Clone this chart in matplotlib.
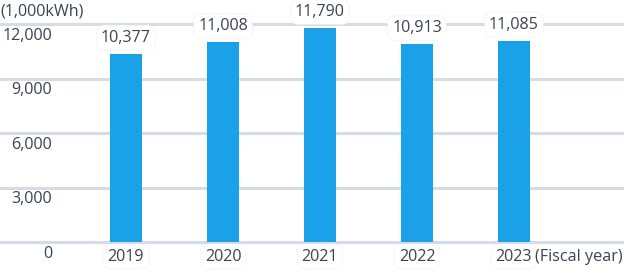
import matplotlib
matplotlib.use("Agg")
import matplotlib.pyplot as plt
import matplotlib.transforms as mtransforms

years = ["2019", "2020", "2021", "2022", "2023"]
values = [10377, 11008, 11790, 10913, 11085]
yticks = [0, 3000, 6000, 9000, 12000]
ytick_labels = ["0", "3,000", "6,000", "9,000", "12,000"]
unit_label = "(1,000kWh)"
xaxis_label = "(Fiscal year)"

plt.rcParams['font.family'] = ['Open Sans', 'DejaVu Sans']
text_color = "#3b4452"
grid_color = "#d6dce6"
bar_color = "#1ba1e8"
fs = 11.6

W, H = 624, 278
fig = plt.figure(figsize=(W / 100, H / 100), dpi=100)
ax = fig.add_axes([0, 36 / H, 1, 236 / H])
ax.set_ylim(0, 13000)
step = 97.0
ax.set_xlim(-126 / step, 4 + (W - 514) / step)
for s in ax.spines.values():
    s.set_visible(False)
ax.set_xticks([])
ax.set_yticks([])

for v in yticks:
    ax.axhline(v, color=grid_color, lw=2.2, zorder=1, clip_on=False)

xs = list(range(len(years)))
ax.bar(xs, values, width=32 / step, color=bar_color, zorder=2)

bbox_style = dict(boxstyle="round,pad=0.28,rounding_size=0.5", fc="white",
                  ec="#ececec", lw=0.8, ls=(0, (1, 1.5)))

blend = mtransforms.blended_transform_factory(ax.transAxes, ax.transData)
for v, lab in zip(yticks, ytick_labels):
    ax.annotate(lab, xy=(52 / W, v), xycoords=blend, xytext=(0, -8.5),
                textcoords="offset points", ha="right", va="center",
                fontsize=fs, color=text_color)

for x, v in zip(xs, values):
    ax.annotate(f"{v:,}", xy=(x, v), xytext=(0, 11.5), textcoords="offset points",
                ha="center", va="center", fontsize=fs, color=text_color,
                bbox=bbox_style, zorder=3)

for x, y in zip(xs, years):
    ax.annotate(y, xy=(x, 0), xytext=(0, -10.5), textcoords="offset points",
                ha="center", va="center", fontsize=fs, color=text_color,
                bbox=bbox_style, zorder=3)

fig.text(623 / W, 1 - 257 / H, xaxis_label, ha="right", va="center",
         fontsize=fs, color=text_color)
fig.text(0 / W, 1 - 12 / H, unit_label, ha="left", va="center",
         fontsize=fs, color=text_color)

fig.savefig("out.png", dpi=100)
